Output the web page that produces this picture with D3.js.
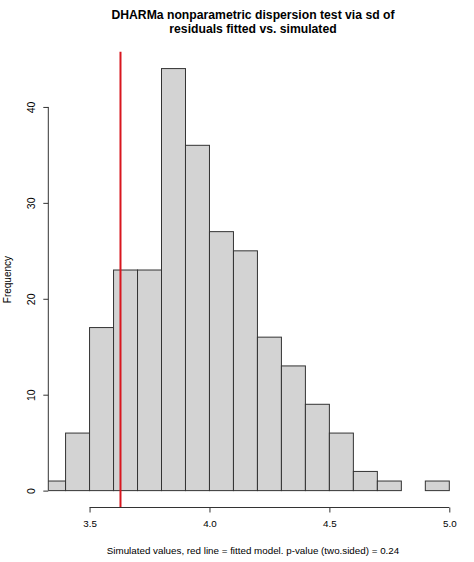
<!DOCTYPE html>
<html>
<head>
<meta charset="utf-8">
<script src="https://cdn.jsdelivr.net/npm/d3@7"></script>
<style>
  body { margin: 0; background: #fff; }
  text { font-family: "Liberation Sans", Arial, sans-serif; fill: #000; }
</style>
</head>
<body>
<svg id="chart"></svg>
<script>
// histogram bins (break points) and counts
const breaks = [3.3, 3.4, 3.5, 3.6, 3.7, 3.8, 3.9, 4.0, 4.1, 4.2, 4.3, 4.4, 4.5, 4.6, 4.7, 4.8, 4.9, 5.0]
const counts = [1, 6, 17, 23, 23, 44, 36, 27, 25, 16, 13, 9, 6, 2, 1, 0, 1]
const xTicks = [3.5, 4.0, 4.5, 5.0]
const yTicks = [0, 10, 20, 30, 40]
const observed = 3.629
const titleLines = ['DHARMa nonparametric dispersion test via sd of', 'residuals fitted vs. simulated']
const xLabel = 'Simulated values, red line = fitted model. p-value (two.sided) = 0.24'
const yLabel = 'Frequency'

const w = 474
const h = 562
// plot region, like R's par("plt")
const pLeft = 48.3, pRight = 457.7, pTop = 51.7, pBottom = 507.5
const labelSize = 9.8

const svg = d3.select('#chart')
  .attr('width', w)
  .attr('height', h)

// R style xlim / ylim with 4% padding
const xlim = [3.328, 5.035]
const ylim = [-1.76, 45.76]

const x = d3.scaleLinear().domain(xlim).range([pLeft, pRight])
const y = d3.scaleLinear().domain(ylim).range([pBottom, pTop])

svg.append('clipPath').attr('id', 'plotclip')
  .append('rect')
    .attr('x', pLeft).attr('y', pTop)
    .attr('width', pRight - pLeft).attr('height', pBottom - pTop)

const bins = counts.map((c, i) => ({ x0: breaks[i], x1: breaks[i + 1], n: c }))

svg.append('g')
    .attr('clip-path', 'url(#plotclip)')
  .selectAll('rect')
  .data(bins)
  .join('rect')
    .attr('x', d => x(d.x0))
    .attr('y', d => y(d.n))
    .attr('width', d => x(d.x1) - x(d.x0))
    .attr('height', d => y(0) - y(d.n))
    .attr('fill', '#d3d3d3')
    .attr('stroke', '#333')
    .attr('stroke-width', 1)

// red line for the fitted model
svg.append('line')
    .attr('x1', x(observed)).attr('x2', x(observed))
    .attr('y1', pTop).attr('y2', pBottom)
    .attr('stroke', '#d8161f')
    .attr('stroke-width', 2)

// x axis
const xAxis = d3.axisBottom(x)
  .tickValues(xTicks)
  .tickFormat(d3.format('.1f'))
  .tickSize(5)
  .tickPadding(8)
const gx = svg.append('g')
  .attr('transform', `translate(0, ${pBottom})`)
  .call(xAxis)
gx.select('.domain').remove()
gx.append('line')
  .attr('x1', x(xTicks[0])).attr('x2', x(xTicks[xTicks.length - 1]))
  .attr('stroke', '#333')
gx.selectAll('.tick line').attr('stroke', '#333')
gx.selectAll('text').attr('font-size', labelSize).attr('fill', '#222')
  .style('font-family', '"Liberation Sans", Arial, sans-serif')

// y axis
const yAxis = d3.axisLeft(y)
  .tickValues(yTicks)
  .tickSize(5)
const gy = svg.append('g')
  .attr('transform', `translate(${pLeft}, 0)`)
  .call(yAxis)
gy.select('.domain').remove()
gy.append('line')
  .attr('y1', y(yTicks[0])).attr('y2', y(yTicks[yTicks.length - 1]))
  .attr('stroke', '#333')
gy.selectAll('.tick line').attr('stroke', '#333')
gy.selectAll('.tick text')
  .attr('x', null).attr('dy', null)
  .attr('transform', 'translate(-13.5, 0) rotate(-90)')
  .attr('text-anchor', 'middle')
  .attr('font-size', 10.5).attr('fill', '#222')
  .style('font-family', '"Liberation Sans", Arial, sans-serif')

// title
const mid = (pLeft + pRight) / 2
svg.append('text')
  .attr('x', mid).attr('y', 18.5)
  .attr('text-anchor', 'middle')
  .attr('font-weight', 'bold')
  .attr('font-size', 12.2)
  .selectAll('tspan')
  .data(titleLines)
  .join('tspan')
    .attr('x', mid)
    .attr('dy', (d, i) => i === 0 ? 0 : 14)
    .text(d => d)

svg.append('text')
  .attr('x', mid).attr('y', 553.5)
  .attr('text-anchor', 'middle')
  .attr('font-size', labelSize)
  .attr('fill', '#222')
  .text(xLabel)

svg.append('text')
  .attr('transform', `translate(10.5, ${(pTop + pBottom) / 2}) rotate(-90)`)
  .attr('text-anchor', 'middle')
  .attr('font-size', 10)
  .attr('fill', '#222')
  .text(yLabel)
</script>
</body>
</html>
